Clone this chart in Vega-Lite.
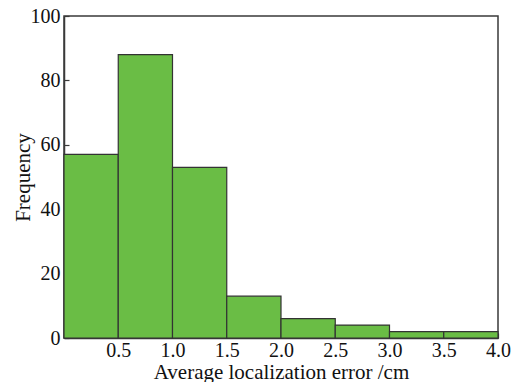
{
  "$schema": "https://vega.github.io/schema/vega-lite/v6.json",
  "width": 434,
  "height": 322,
  "autosize": {"type": "none"},
  "padding": {"left": 64, "top": 16, "right": 18, "bottom": 44},
  "background": "white",
  "config": {
    "view": {"stroke": "#3a3a3a", "strokeWidth": 1.5},
    "font": "Liberation Serif",
    "axis": {
      "labelFont": "Liberation Serif",
      "titleFont": "Liberation Serif",
      "labelFontSize": 20,
      "titleFontSize": 21,
      "labelColor": "#111",
      "titleColor": "#111",
      "titleFontWeight": "normal",
      "domainColor": "#3a3a3a",
      "domainWidth": 1.5,
      "tickColor": "#3a3a3a",
      "tickWidth": 1.2,
      "tickSize": -5,
      "grid": false
    }
  },
  "data": {
    "values": [
      {"start": 0.0, "end": 0.5, "count": 57},
      {"start": 0.5, "end": 1.0, "count": 88},
      {"start": 1.0, "end": 1.5, "count": 53},
      {"start": 1.5, "end": 2.0, "count": 13},
      {"start": 2.0, "end": 2.5, "count": 6},
      {"start": 2.5, "end": 3.0, "count": 4},
      {"start": 3.0, "end": 3.5, "count": 2},
      {"start": 3.5, "end": 4.0, "count": 2}
    ]
  },
  "mark": {"type": "rect", "fill": "#6abd45", "stroke": "#333333", "strokeWidth": 1.2},
  "encoding": {
    "x": {
      "field": "start",
      "type": "quantitative",
      "scale": {"domain": [0, 4], "nice": false, "zero": false},
      "axis": {
        "title": "Average localization error /cm",
        "values": [0.5, 1.0, 1.5, 2.0, 2.5, 3.0, 3.5, 4.0],
        "format": ".1f",
        "labelPadding": 7,
        "titlePadding": 1,
        "labelFlush": false
      }
    },
    "x2": {"field": "end"},
    "y": {
      "field": "count",
      "type": "quantitative",
      "scale": {"domain": [0, 100], "nice": false},
      "axis": {
        "title": "Frequency",
        "values": [0, 20, 40, 60, 80, 100],
        "labelPadding": 9,
        "titlePadding": -3,
        "labelFlush": false
      }
    },
    "y2": {"datum": 0}
  }
}
